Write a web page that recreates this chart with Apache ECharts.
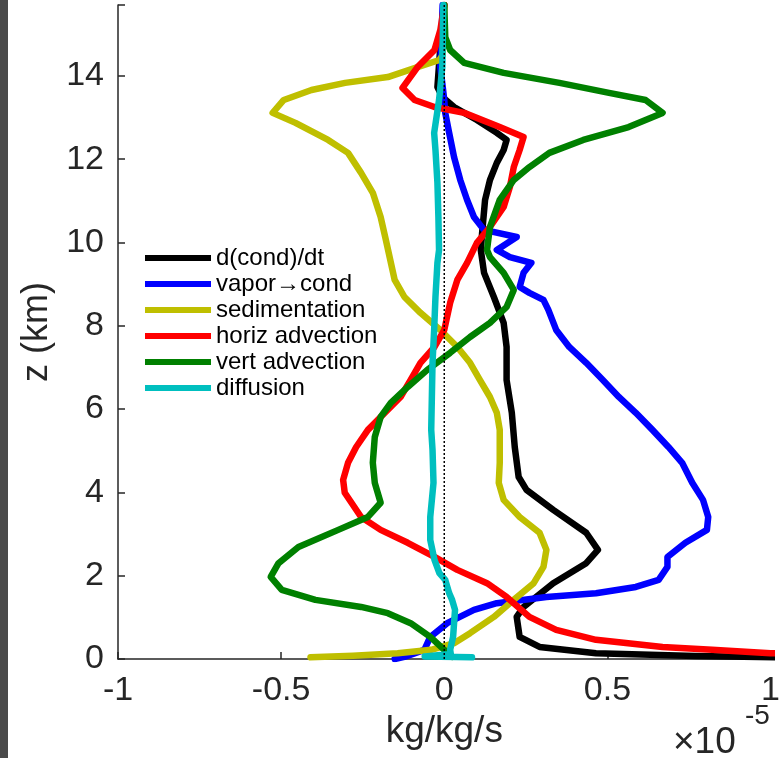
<!DOCTYPE html>
<html>
<head>
<meta charset="utf-8">
<script src="https://cdn.jsdelivr.net/npm/echarts@6/dist/echarts.min.js"></script>
<style>
  html, body { margin: 0; padding: 0; background: #ffffff; }
  #chart { width: 783px; height: 758px; }
</style>
</head>
<body>
<div id="chart"></div>
<script>
// Condensate budget profiles; values in units of 1e-5 kg/kg/s, heights in km.
const seriesNames = ['d(cond)/dt', 'vapor\u2192cond', 'sedimentation', 'horiz advection', 'vert advection', 'diffusion'];
const seriesColors = ['#000000', '#0000ff', '#bfbf00', '#ff0000', '#008000', '#00bfbf'];
const xTicks = [-1, -0.5, 0, 0.5, 1];
const yTicks = [0, 2, 4, 6, 8, 10, 12, 14];

const zCond = [15.7, 14.9, 14.38, 13.73, 13.49, 13.25, 12.94, 12.63, 12.46, 12.22, 11.91, 11.50, 11.02, 10.23, 9.82, 9.27, 8.69, 8.07, 7.49, 6.70, 5.91, 5.09, 4.37, 4.06, 3.58, 3.03, 2.62, 2.30, 1.82, 1.25, 1.01, 0.53, 0.29, 0.14, 0.07, 0.04, 0];
const vCond = [0, -0.01, -0.015, -0.021, -0.006, 0.030, 0.100, 0.161, 0.191, 0.182, 0.161, 0.140, 0.125, 0.116, 0.112, 0.122, 0.152, 0.182, 0.191, 0.191, 0.207, 0.216, 0.228, 0.252, 0.334, 0.435, 0.471, 0.435, 0.334, 0.243, 0.222, 0.231, 0.292, 0.465, 0.77, 1.05, 3.0];

const zVapor = [15.7, 14.21, 13.42, 13.11, 12.63, 12.05, 11.50, 11.02, 10.61, 10.30, 10.13, 9.82, 9.65, 9.51, 9.27, 8.93, 8.79, 8.62, 8.38, 7.90, 7.49, 7.11, 6.70, 6.29, 5.91, 5.50, 5.09, 4.71, 4.23, 3.82, 3.41, 3.10, 2.79, 2.45, 2.21, 1.90, 1.73, 1.58, 1.49, 1.34, 1.18, 0.86, 0.53, 0.22, 0.05, 0];
const vVapor = [-0.005, -0.012, 0.0, 0.003, 0.015, 0.030, 0.049, 0.070, 0.091, 0.122, 0.222, 0.161, 0.201, 0.267, 0.243, 0.231, 0.261, 0.304, 0.319, 0.343, 0.383, 0.435, 0.486, 0.535, 0.587, 0.638, 0.687, 0.729, 0.760, 0.793, 0.809, 0.805, 0.739, 0.684, 0.684, 0.657, 0.587, 0.465, 0.313, 0.161, 0.091, 0.009, -0.043, -0.061, -0.122, -0.152];

const zSed = [15.7, 14.5, 14.38, 14.21, 13.97, 13.83, 13.66, 13.42, 13.11, 12.87, 12.46, 12.15, 11.67, 11.19, 10.61, 10.06, 9.10, 8.69, 8.31, 7.90, 7.49, 7.11, 6.70, 6.29, 5.91, 5.50, 4.71, 4.23, 3.82, 3.41, 3.03, 2.62, 2.21, 1.82, 1.42, 1.01, 0.62, 0.38, 0.22, 0.14, 0.08, 0.04];
const vSed = [0, -0.005, -0.015, -0.082, -0.173, -0.304, -0.407, -0.492, -0.526, -0.456, -0.356, -0.295, -0.255, -0.219, -0.195, -0.179, -0.152, -0.122, -0.073, -0.012, 0.040, 0.079, 0.109, 0.140, 0.161, 0.170, 0.170, 0.167, 0.182, 0.231, 0.292, 0.313, 0.304, 0.274, 0.213, 0.152, 0.079, 0.03, -0.04, -0.143, -0.28, -0.41];

const zHadv = [15.7, 15.10, 14.62, 14.21, 13.71, 13.42, 13.25, 13.11, 12.77, 12.53, 12.22, 11.81, 11.33, 10.85, 10.37, 9.99, 9.51, 9.10, 8.55, 7.90, 7.49, 7.11, 6.70, 6.29, 5.91, 5.50, 5.09, 4.71, 4.30, 3.99, 3.41, 3.10, 2.79, 2.45, 2.14, 1.82, 1.49, 1.01, 0.70, 0.46, 0.29, 0.22, 0.14, 0];
const vHadv = [0, -0.012, -0.030, -0.082, -0.128, -0.091, -0.030, 0.061, 0.170, 0.243, 0.231, 0.213, 0.201, 0.182, 0.140, 0.100, 0.070, 0.040, 0.018, 0.0, -0.030, -0.073, -0.103, -0.134, -0.182, -0.234, -0.27, -0.295, -0.31, -0.305, -0.255, -0.195, -0.112, -0.030, 0.040, 0.131, 0.191, 0.261, 0.343, 0.465, 0.669, 0.821, 1.0, 2.0];

const zVadv = [15.7, 14.93, 14.62, 14.31, 14.07, 13.83, 13.59, 13.42, 13.11, 12.77, 12.46, 12.15, 11.81, 11.50, 11.02, 10.37, 9.82, 9.65, 9.27, 8.86, 8.45, 8.07, 7.73, 7.35, 6.94, 6.53, 6.15, 5.81, 5.33, 4.71, 4.23, 3.75, 3.41, 3.10, 2.69, 2.30, 1.97, 1.66, 1.42, 1.25, 1.10, 0.86, 0.53, 0.22, 0.05];
const vVadv = [0.0, 0.003, 0.018, 0.061, 0.182, 0.353, 0.505, 0.617, 0.669, 0.565, 0.426, 0.322, 0.261, 0.213, 0.170, 0.140, 0.131, 0.140, 0.182, 0.213, 0.191, 0.140, 0.079, 0.018, -0.052, -0.112, -0.164, -0.195, -0.213, -0.219, -0.213, -0.195, -0.234, -0.325, -0.447, -0.508, -0.532, -0.498, -0.395, -0.255, -0.173, -0.103, -0.043, 0.0, 0.024];

const zDiff = [15.7, 14.21, 13.42, 12.63, 12.22, 11.43, 10.61, 9.82, 9.51, 8.69, 7.90, 7.11, 5.50, 5.02, 4.23, 3.41, 2.86, 2.38, 2.06, 1.90, 1.58, 1.42, 1.18, 0.53, 0.22, 0.12, 0.06, 0.04];
const vDiff = [-0.003, -0.006, -0.016, -0.031, -0.027, -0.021, -0.018, -0.016, -0.021, -0.027, -0.031, -0.036, -0.040, -0.036, -0.033, -0.043, -0.043, -0.030, -0.015, 0.003, 0.015, 0.024, 0.033, 0.027, 0.018, 0.02, -0.06, 0.085];

const zTop = 15.7;

const profiles = [
  [vCond, zCond], [vVapor, zVapor], [vSed, zSed],
  [vHadv, zHadv], [vVadv, zVadv], [vDiff, zDiff]
];

const FONT = "'Liberation Sans', Arial, Helvetica, sans-serif";
const AXIS_COLOR = '#262626';

const chart = echarts.init(document.getElementById('chart'), null, { renderer: 'canvas' });

const lineSeries = profiles.map(function (p, i) {
  return {
    name: seriesNames[i],
    type: 'line',
    data: p[0].map(function (v, k) { return [v, p[1][k]]; }),
    showSymbol: false,
    symbol: 'none',
    clip: true,
    animation: false,
    lineStyle: { color: seriesColors[i], width: 6.5, join: 'round', cap: 'round' },
    itemStyle: { color: seriesColors[i] },
    z: 2 + i
  };
});

// zero reference line drawn over the profiles
lineSeries.push({
  name: 'zero',
  type: 'line',
  data: [[0, 0], [0, zTop]],
  showSymbol: false,
  symbol: 'none',
  animation: false,
  lineStyle: { color: '#000000', width: 1.5, type: [2, 2] },
  z: 20
});

chart.setOption({
  backgroundColor: '#ffffff',
  animation: false,
  grid: { left: 118, right: 7, top: 5, bottom: 99, containLabel: false },
  xAxis: {
    type: 'value',
    min: xTicks[0],
    max: xTicks[xTicks.length - 1],
    interval: 0.5,
    name: 'kg/kg/s',
    nameLocation: 'middle',
    nameGap: 52,
    nameTextStyle: { fontFamily: FONT, fontSize: 37, color: AXIS_COLOR },
    axisLine: { show: true, onZero: false, lineStyle: { color: AXIS_COLOR, width: 1.5 } },
    axisTick: { show: true, inside: true, length: 7, lineStyle: { color: AXIS_COLOR, width: 1.5 } },
    axisLabel: {
      fontFamily: FONT, fontSize: 34, color: AXIS_COLOR, margin: 15,
      formatter: function (v) { return String(v); }
    },
    splitLine: { show: false }
  },
  yAxis: {
    type: 'value',
    min: yTicks[0],
    max: zTop,
    interval: 2,
    name: 'z (km)',
    nameLocation: 'middle',
    nameRotate: 90,
    nameGap: 61,
    nameTextStyle: { fontFamily: FONT, fontSize: 36, color: AXIS_COLOR },
    axisLine: { show: true, onZero: false, lineStyle: { color: AXIS_COLOR, width: 1.5 } },
    axisTick: { show: true, inside: true, length: 7, lineStyle: { color: AXIS_COLOR, width: 1.5 } },
    axisLabel: {
      fontFamily: FONT, fontSize: 34, color: AXIS_COLOR, margin: 14,
      formatter: function (v) { return yTicks.indexOf(v) >= 0 ? String(v) : ''; }
    },
    splitLine: { show: false }
  },
  legend: {
    data: seriesNames,
    orient: 'vertical',
    left: 145,
    top: 246,
    icon: 'rect',
    itemWidth: 66,
    itemHeight: 6,
    itemGap: 2,
    padding: 0,
    textStyle: { fontFamily: FONT, fontSize: 24, color: '#000000', lineHeight: 24 }
  },
  graphic: [
    {
      type: 'rect',
      left: 0, top: 0,
      shape: { width: 8, height: 758 },
      style: { fill: '#4a4a4a' },
      silent: true
    },
    {
      type: 'text',
      left: 673, top: 724,
      style: { text: '\u00d710', fontFamily: FONT, fontSize: 37, fill: AXIS_COLOR }
    },
    {
      type: 'text',
      left: 745, top: 702,
      style: { text: '-5', fontFamily: FONT, fontSize: 28, fill: AXIS_COLOR }
    }
  ],
  series: lineSeries
});
</script>
</body>
</html>
